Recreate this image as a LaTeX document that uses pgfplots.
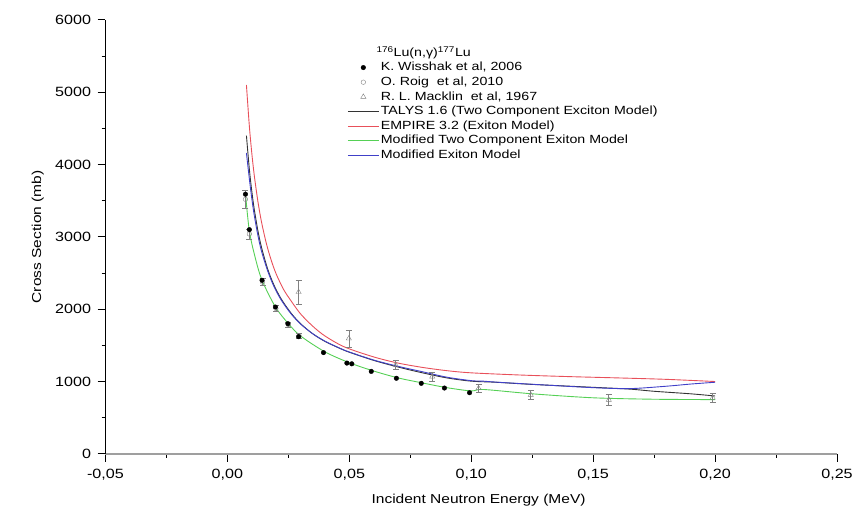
\documentclass[border=0pt]{standalone}
\usepackage{pgfplots}
\pgfplotsset{compat=1.18}
\usepackage{fontspec}
\setmainfont{Liberation Sans}[FakeStretch=1.2]

\definecolor{tcol}{HTML}{333333}
\definecolor{ecol}{HTML}{E8505A}
\definecolor{gcol}{HTML}{55D055}
\definecolor{bcol}{HTML}{4040C8}

\begin{document}
\begin{tikzpicture}
\begin{axis}[
  width=735bp, height=436bp, scale only axis,
  xmin=-0.05, xmax=0.25, ymin=0, ymax=6000,
  axis lines=left, axis line style={-},
  x axis line style={gray!75, line width=2.6bp},
  y axis line style={black, line width=1bp},
  xtick={-0.05,0,0.05,0.1,0.15,0.2,0.25},
  minor xtick={-0.025,0.025,0.075,0.125,0.175,0.225},
  ytick={0,1000,...,6000},
  minor ytick={500,1500,...,5500},
  tick align=outside, major tick length=8bp, minor tick length=4bp,
  tick style={black, line width=0.9bp},
  ticklabel style={font=\fontsize{13.5bp}{16bp}\selectfont},
  /pgf/number format/assume math mode=true,
  xticklabel style={yshift=-4bp, /pgf/number format/.cd, fixed, fixed zerofill, precision=2, use comma},
  yticklabel style={xshift=-3bp, /pgf/number format/.cd, fixed, precision=0, 1000 sep={}},
  xlabel={Incident Neutron Energy (MeV)},
  ylabel={Cross Section (mb)},
  label style={font=\fontsize{13bp}{15bp}\selectfont},
  xlabel style={at={(axis description cs:0.51,-0.106)}, anchor=center},
  ylabel style={at={(axis description cs:-0.0925,0.5)}, anchor=center},
  legend style={draw=none, fill=none, at={(rel axis cs:0.3305,0.9075)}, anchor=north west,
    font=\fontsize{11.9bp}{13bp}\selectfont, row sep=0bp, inner sep=0bp,
    nodes={inner sep=1.6bp, text height=9bp, text depth=2.5bp}},
  legend cell align=left,
  legend image code/.code={\draw[mark repeat=2,mark phase=2,#1] plot coordinates {(0bp,0bp)(15.5bp,0bp)(31bp,0bp)};},
]
\coordinate (O) at (rel axis cs:0,0);
\node[font=\fontsize{11.9bp}{13bp}\selectfont, anchor=center]
  at (rel axis cs:0.435,0.924) {\textsuperscript{176}Lu(n,γ)\textsuperscript{177}Lu};

% legend
\addlegendimage{only marks, mark=*, mark size=2.3bp, black}
\addlegendentry{K. Wisshak et al, 2006}
\addlegendimage{only marks, mark=o, mark size=2.3bp, gray}
\addlegendentry{O. Roig\ \ et al, 2010}
\addlegendimage{only marks, mark=triangle, mark size=3bp, gray}
\addlegendentry{R. L. Macklin\ \ et al, 1967}
\addlegendimage{tcol, line width=0.9bp}
\addlegendentry{TALYS 1.6 (Two Component Exciton Model)}
\addlegendimage{ecol, line width=0.9bp}
\addlegendentry{EMPIRE 3.2 (Exiton Model)}
\addlegendimage{gcol, line width=0.9bp}
\addlegendentry{Modified Two Component Exiton Model}
\addlegendimage{bcol, line width=0.9bp}
\addlegendentry{Modified Exiton Model}

% model curves
\addplot[ecol, line width=0.9bp, smooth, forget plot] coordinates {
  (0.0078,5100) (0.009,4529) (0.010,4158) (0.011,3854) (0.0125,3490)
  (0.014,3203) (0.016,2905) (0.018,2673) (0.020,2487) (0.023,2275)
  (0.026,2120) (0.030,1935) (0.035,1765) (0.040,1630) (0.048,1478)
  (0.06,1340) (0.07,1255) (0.08,1195) (0.09,1150) (0.10,1120)
  (0.12,1090) (0.14,1068) (0.16,1050) (0.18,1030) (0.20,1000)};
\addplot[tcol, line width=0.9bp, smooth, forget plot] coordinates {
  (0.0078,4400) (0.009,3934) (0.010,3631) (0.011,3383) (0.0125,3086)
  (0.014,2852) (0.0165,2557) (0.019,2340) (0.022,2145) (0.026,1950)
  (0.030,1800) (0.035,1660) (0.040,1555) (0.046,1460) (0.05,1405)
  (0.06,1292) (0.07,1200) (0.08,1120) (0.09,1050) (0.10,1005)
  (0.11,990) (0.125,960) (0.15,920) (0.165,895) (0.175,865)
  (0.19,830) (0.20,800)};
\addplot[bcol, line width=0.9bp, smooth, forget plot] coordinates {
  (0.0078,4160) (0.009,3800) (0.010,3530) (0.011,3300) (0.0125,3020)
  (0.014,2800) (0.0165,2530) (0.019,2320) (0.022,2130) (0.026,1940)
  (0.030,1795) (0.035,1660) (0.040,1558) (0.046,1462) (0.05,1408)
  (0.06,1297) (0.07,1210) (0.08,1135) (0.09,1060) (0.10,1012)
  (0.105,1005) (0.11,992) (0.125,962) (0.15,915) (0.165,902)
  (0.18,935) (0.19,965) (0.20,990)};
\addplot[gcol, line width=0.9bp, smooth, forget plot] coordinates {
  (0.0074,3600) (0.009,3080) (0.0115,2700) (0.0142,2400) (0.0197,2030)
  (0.025,1800) (0.03,1630) (0.04,1410) (0.05,1260) (0.06,1145)
  (0.07,1050) (0.08,980) (0.09,915) (0.10,870) (0.105,890)
  (0.125,830) (0.15,775) (0.175,755) (0.20,750)};

% measurements
\addplot[only marks, mark=o, mark size=2.3bp, gray, forget plot,
  error bars/.cd, y dir=both, y explicit,
  error bar style={gray, line width=0.6bp},
  error mark options={rotate=90, mark size=3bp, gray, line width=0.6bp}]
  coordinates {
  (0.0074,3520) +- (0,120) (0.009,3040) +- (0,70) (0.0144,2375) +- (0,50)
  (0.0199,2010) +- (0,40) (0.025,1787) +- (0,35) (0.0294,1632) +- (0,30)};
\addplot[only marks, mark=triangle, mark size=3bp, gray, forget plot,
  error bars/.cd, y dir=both, y explicit,
  error bar style={gray, line width=0.6bp},
  error mark options={rotate=90, mark size=3bp, gray, line width=0.6bp}]
  coordinates {
  (0.0292,2237) +- (0,165) (0.0498,1595) +- (0,115) (0.069,1228) +- (0,60)
  (0.084,1068) +- (0,60) (0.103,907) +- (0,50) (0.1244,816) +- (0,60)
  (0.1564,747) +- (0,70) (0.199,775) +- (0,60)};
\addplot[only marks, mark=*, mark size=2.3bp, black, forget plot] coordinates {
  (0.0074,3590) (0.009,3100) (0.0142,2400) (0.0197,2030) (0.0248,1800)
  (0.0292,1620) (0.0394,1400) (0.049,1255) (0.051,1245) (0.059,1140)
  (0.0693,1045) (0.0795,975) (0.089,910) (0.0993,845)};
\end{axis}
\path (O) ++(-106bp,-54bp) rectangle ++(856bp,510bp);
\end{tikzpicture}
\end{document}
